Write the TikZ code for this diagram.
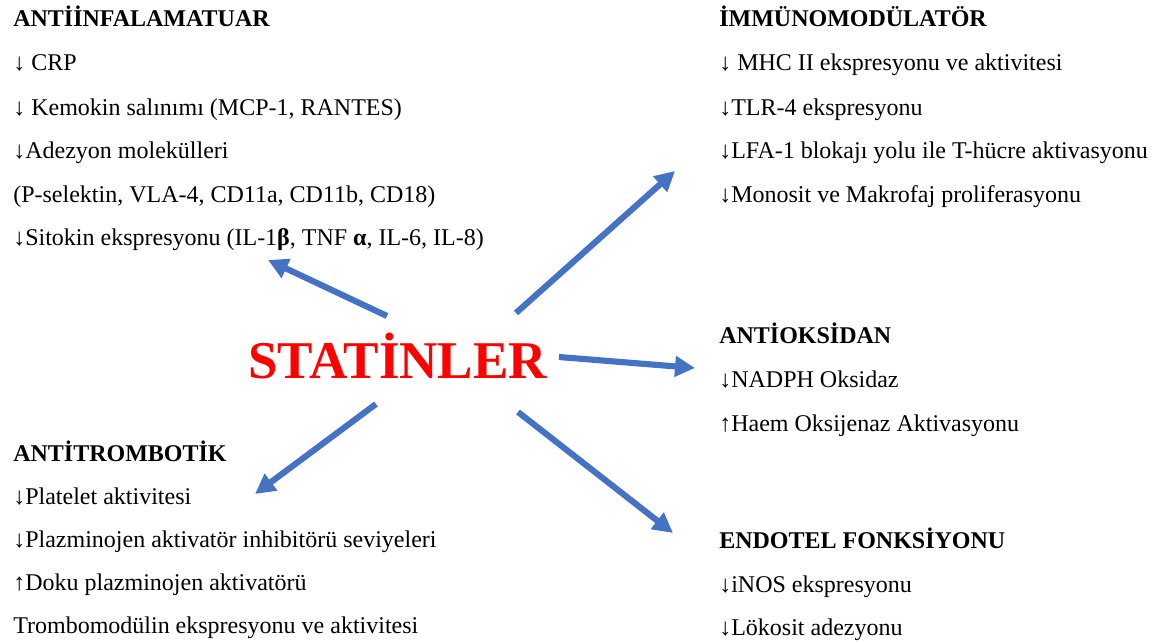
\documentclass[tikz,border=0pt]{standalone}
\usepackage{fontspec}
\setmainfont{Liberation Serif}
\usetikzlibrary{arrows.meta}
\definecolor{arrowblue}{HTML}{4472C4}
\definecolor{titlered}{HTML}{FF0000}
\begin{document}
\begin{tikzpicture}[x=0.75pt,y=-0.75pt,
  txt/.style={anchor=base west,inner sep=0pt,font=\fontsize{18}{21}\selectfont},
  hd/.style={txt,font=\fontsize{18}{21}\selectfont\bfseries},
  effect/.style={draw=arrowblue,line width=4.6pt,
    -{Triangle[length=15pt,width=15pt]}}]
\useasboundingbox (0,0) rectangle (1160,642);

% centre title
\node[anchor=base west,inner sep=0pt,text=titlered,
  font=\fontsize{39.8}{44}\selectfont\bfseries] (st) at (248,378) {STATİNLER};

% anti-inflammatory block
\node[hd]  (ai0) at (13,27)  {ANTİİNFALAMATUAR};
\node[txt] (ai1) at (13,71)  {↓ CRP};
\node[txt] (ai2) at (13,115) {↓ Kemokin salınımı (MCP-1, RANTES)};
\node[txt] (ai3) at (13,158) {↓Adezyon molekülleri};
\node[txt] (ai4) at (13,202) {(P-selektin, VLA-4, CD11a, CD11b, CD18)};
\node[txt] (ai5) at (13,245) {↓Sitokin ekspresyonu (IL-1\textbf{β}, TNF \textbf{α}, IL-6, IL-8)};

% immunomodulatory block
\node[hd]  (im0) at (719,27)  {İMMÜNOMODÜLATÖR};
\node[txt] (im1) at (719,71)  {↓ MHC II ekspresyonu ve aktivitesi};
\node[txt] (im2) at (719,115) {↓TLR-4 ekspresyonu};
\node[txt] (im3) at (719,158) {↓LFA-1 blokajı yolu ile T-hücre aktivasyonu};
\node[txt] (im4) at (719,202) {↓Monosit ve Makrofaj proliferasyonu};

% antioxidant block
\node[hd]  (ao0) at (719,343) {ANTİOKSİDAN};
\node[txt] (ao1) at (719,387) {↓NADPH Oksidaz};
\node[txt] (ao2) at (719,431) {↑Haem Oksijenaz Aktivasyonu};

% endothelial function block
\node[hd]  (en0) at (719,548) {ENDOTEL FONKSİYONU};
\node[txt] (en1) at (719,592) {↓iNOS ekspresyonu};
\node[txt] (en2) at (719,635) {↓Lökosit adezyonu};

% antithrombotic block
\node[hd]  (at0) at (13,461) {ANTİTROMBOTİK};
\node[txt] (at1) at (13,504) {↓Platelet aktivitesi};
\node[txt] (at2) at (13,547) {↓Plazminojen aktivatör inhibitörü seviyeleri};
\node[txt] (at3) at (13,590) {↑Doku plazminojen aktivatörü};
\node[txt] (at4) at (13,633) {Trombomodülin ekspresyonu ve aktivitesi};

% arrow ends
\coordinate (s1) at (387,316); \coordinate (e1) at (268,260);
\coordinate (s2) at (516,313); \coordinate (e2) at (675,171);
\coordinate (s3) at (559,357); \coordinate (e3) at (695,368);
\coordinate (s4) at (376,404); \coordinate (e4) at (255,494);
\coordinate (s5) at (518,412); \coordinate (e5) at (673,533);

\draw[effect] (s1) -- (e1);
\draw[effect] (s2) -- (e2);
\draw[effect] (s3) -- (e3);
\draw[effect] (s4) -- (e4);
\draw[effect] (s5) -- (e5);
\end{tikzpicture}
\end{document}
